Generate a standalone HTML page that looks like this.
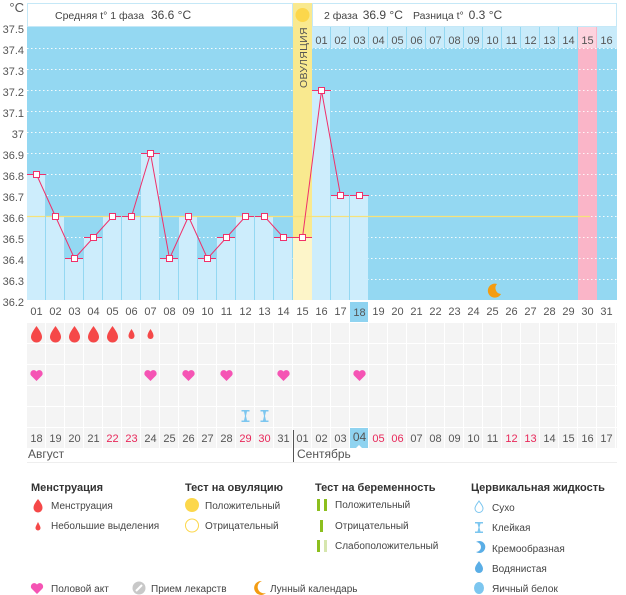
<!DOCTYPE html>
<html><head><meta charset="utf-8"><style>
html,body{margin:0;padding:0;background:#fff}
svg{display:block;font-family:"Liberation Sans",sans-serif}
</style></head><body>
<svg width="626" height="595" viewBox="0 0 626 595" xmlns="http://www.w3.org/2000/svg">
<rect x="27" y="27" width="590" height="273" fill="#94d8f2"/>
<rect x="578" y="27" width="19" height="273" fill="#fab5c8"/>
<g stroke="#fff" stroke-width="1" stroke-dasharray="1.5,2.5" opacity="0.9">
<line x1="27" x2="617" y1="48.5" y2="48.5"/><line x1="27" x2="617" y1="69.5" y2="69.5"/>
<line x1="27" x2="617" y1="90.5" y2="90.5"/><line x1="27" x2="617" y1="111.5" y2="111.5"/>
<line x1="27" x2="617" y1="132.5" y2="132.5"/><line x1="27" x2="617" y1="153.5" y2="153.5"/>
<line x1="27" x2="617" y1="174.5" y2="174.5"/><line x1="27" x2="617" y1="195.5" y2="195.5"/>
<line x1="27" x2="617" y1="216.5" y2="216.5"/><line x1="27" x2="617" y1="237.5" y2="237.5"/>
<line x1="27" x2="617" y1="258.5" y2="258.5"/><line x1="27" x2="617" y1="279.5" y2="279.5"/>
</g>
<g fill="#cdedfc">
<rect x="27" y="174" width="18" height="126"/>
<rect x="46" y="216" width="18" height="84"/>
<rect x="65" y="258" width="18" height="42"/>
<rect x="84" y="237" width="18" height="63"/>
<rect x="103" y="216" width="18" height="84"/>
<rect x="122" y="216" width="18" height="84"/>
<rect x="141" y="153" width="18" height="147"/>
<rect x="160" y="258" width="18" height="42"/>
<rect x="179" y="216" width="18" height="84"/>
<rect x="198" y="258" width="18" height="42"/>
<rect x="217" y="237" width="18" height="63"/>
<rect x="236" y="216" width="18" height="84"/>
<rect x="255" y="216" width="18" height="84"/>
<rect x="274" y="237" width="18" height="63"/>
<rect x="312" y="90" width="18" height="210"/>
<rect x="331" y="195" width="18" height="105"/>
<rect x="350" y="195" width="18" height="105"/>
</g>
<rect x="293" y="3" width="19" height="234" fill="#f9e98f"/>
<rect x="293" y="237" width="19" height="63" fill="#fdf5c9"/>
<text transform="translate(307,88) rotate(-90)" font-size="10.5" fill="#555" letter-spacing="0.3">ОВУЛЯЦИЯ</text>
<circle cx="302.5" cy="15" r="7" fill="#fcd74b"/>
<g stroke="#f0306a" stroke-width="1">
<line x1="27" x2="46" y1="174.5" y2="174.5"/><line x1="46" x2="65" y1="216.5" y2="216.5"/>
<line x1="65" x2="84" y1="258.5" y2="258.5"/><line x1="84" x2="103" y1="237.5" y2="237.5"/>
<line x1="103" x2="122" y1="216.5" y2="216.5"/><line x1="122" x2="141" y1="216.5" y2="216.5"/>
<line x1="141" x2="160" y1="153.5" y2="153.5"/><line x1="160" x2="179" y1="258.5" y2="258.5"/>
<line x1="179" x2="198" y1="216.5" y2="216.5"/><line x1="198" x2="217" y1="258.5" y2="258.5"/>
<line x1="217" x2="236" y1="237.5" y2="237.5"/><line x1="236" x2="255" y1="216.5" y2="216.5"/>
<line x1="255" x2="274" y1="216.5" y2="216.5"/><line x1="274" x2="293" y1="237.5" y2="237.5"/>
<line x1="293" x2="312" y1="237.5" y2="237.5"/><line x1="312" x2="331" y1="90.5" y2="90.5"/>
<line x1="331" x2="350" y1="195.5" y2="195.5"/><line x1="350" x2="369" y1="195.5" y2="195.5"/>
</g>
<line x1="27" x2="590" y1="216.5" y2="216.5" stroke="#f7e27a" stroke-width="1.2"/>
<polyline fill="none" stroke="#f0306a" stroke-width="1" points="36.5,174.5 55.5,216.5 74.5,258.5 93.5,237.5 112.5,216.5 131.5,216.5 150.5,153.5 169.5,258.5 188.5,216.5 207.5,258.5 226.5,237.5 245.5,216.5 264.5,216.5 283.5,237.5 302.5,237.5 321.5,90.5 340.5,195.5 359.5,195.5"/>
<g fill="#fff" stroke="#f0306a" stroke-width="1">
<rect x="33.5" y="171.5" width="6" height="6"/><rect x="52.5" y="213.5" width="6" height="6"/>
<rect x="71.5" y="255.5" width="6" height="6"/><rect x="90.5" y="234.5" width="6" height="6"/>
<rect x="109.5" y="213.5" width="6" height="6"/><rect x="128.5" y="213.5" width="6" height="6"/>
<rect x="147.5" y="150.5" width="6" height="6"/><rect x="166.5" y="255.5" width="6" height="6"/>
<rect x="185.5" y="213.5" width="6" height="6"/><rect x="204.5" y="255.5" width="6" height="6"/>
<rect x="223.5" y="234.5" width="6" height="6"/><rect x="242.5" y="213.5" width="6" height="6"/>
<rect x="261.5" y="213.5" width="6" height="6"/><rect x="280.5" y="234.5" width="6" height="6"/>
<rect x="299.5" y="234.5" width="6" height="6"/><rect x="318.5" y="87.5" width="6" height="6"/>
<rect x="337.5" y="192.5" width="6" height="6"/><rect x="356.5" y="192.5" width="6" height="6"/>
</g>
<g stroke="#94d8f2" stroke-width="1">
<line x1="45.5" x2="45.5" y1="216" y2="300"/><line x1="64.5" x2="64.5" y1="258" y2="300"/>
<line x1="83.5" x2="83.5" y1="258" y2="300"/><line x1="102.5" x2="102.5" y1="237" y2="300"/>
<line x1="121.5" x2="121.5" y1="216" y2="300"/><line x1="140.5" x2="140.5" y1="216" y2="300"/>
<line x1="159.5" x2="159.5" y1="258" y2="300"/><line x1="178.5" x2="178.5" y1="258" y2="300"/>
<line x1="197.5" x2="197.5" y1="258" y2="300"/><line x1="216.5" x2="216.5" y1="258" y2="300"/>
<line x1="235.5" x2="235.5" y1="237" y2="300"/><line x1="254.5" x2="254.5" y1="216" y2="300"/>
<line x1="273.5" x2="273.5" y1="237" y2="300"/><line x1="330.5" x2="330.5" y1="195" y2="300"/>
<line x1="349.5" x2="349.5" y1="195" y2="300"/>
</g>
<rect x="27.5" y="3.5" width="265" height="23" fill="#fff" stroke="#c5e8f7"/>
<text x="55" y="19" font-size="10.5" fill="#444">Средняя t° 1 фаза <tspan font-size="12" dx="4">36.6 °C</tspan></text>
<rect x="312.5" y="3.5" width="304" height="23" fill="#fff" stroke="#c5e8f7"/>
<text x="324" y="19" font-size="10.5" fill="#444">2 фаза <tspan font-size="12" dx="2">36.9 °C</tspan></text>
<text x="413" y="19" font-size="10.5" fill="#444">Разница t° <tspan font-size="12" dx="2">0.3 °C</tspan></text>
<g fill="#c9ebfa">
<rect x="312" y="27" width="18" height="21"/><rect x="331" y="27" width="18" height="21"/><rect x="350" y="27" width="18" height="21"/><rect x="369" y="27" width="18" height="21"/><rect x="388" y="27" width="18" height="21"/><rect x="407" y="27" width="18" height="21"/><rect x="426" y="27" width="18" height="21"/><rect x="445" y="27" width="18" height="21"/><rect x="464" y="27" width="18" height="21"/><rect x="483" y="27" width="18" height="21"/><rect x="502" y="27" width="18" height="21"/><rect x="521" y="27" width="18" height="21"/><rect x="540" y="27" width="18" height="21"/><rect x="559" y="27" width="18" height="21"/><rect x="578" y="27" width="18" height="21" fill="#fdd3de"/><rect x="597" y="27" width="20" height="21"/>
</g>
<g font-size="11" fill="#555" text-anchor="middle">
<text x="321.5" y="44">01</text><text x="340.5" y="44">02</text><text x="359.5" y="44">03</text><text x="378.5" y="44">04</text><text x="397.5" y="44">05</text><text x="416.5" y="44">06</text><text x="435.5" y="44">07</text><text x="454.5" y="44">08</text><text x="473.5" y="44">09</text><text x="492.5" y="44">10</text><text x="511.5" y="44">11</text><text x="530.5" y="44">12</text><text x="549.5" y="44">13</text><text x="568.5" y="44">14</text><text x="587.5" y="44">15</text><text x="606.5" y="44">16</text>
</g>
<path d="M497,284 a7,7 0 1 0 4,10 a6,6 0 0 1 -4,-10z" fill="#f39c12"/>
<g font-size="11" fill="#555" text-anchor="end">
<text x="24" y="12" font-size="13">°C</text>
<text x="24" y="33">37.5</text><text x="24" y="54">37.4</text><text x="24" y="75">37.3</text><text x="24" y="96">37.2</text><text x="24" y="117">37.1</text><text x="24" y="138">37</text><text x="24" y="159">36.9</text><text x="24" y="180">36.8</text><text x="24" y="201">36.7</text><text x="24" y="222">36.6</text><text x="24" y="243">36.5</text><text x="24" y="264">36.4</text><text x="24" y="285">36.3</text><text x="24" y="306">36.2</text>
</g>
<rect x="350" y="302" width="18" height="20" fill="#8fd3f0"/>
<g font-size="11" fill="#555" text-anchor="middle">
<text x="36.5" y="315">01</text><text x="55.5" y="315">02</text><text x="74.5" y="315">03</text><text x="93.5" y="315">04</text><text x="112.5" y="315">05</text><text x="131.5" y="315">06</text><text x="150.5" y="315">07</text><text x="169.5" y="315">08</text><text x="188.5" y="315">09</text><text x="207.5" y="315">10</text><text x="226.5" y="315">11</text><text x="245.5" y="315">12</text><text x="264.5" y="315">13</text><text x="283.5" y="315">14</text><text x="302.5" y="315">15</text><text x="321.5" y="315">16</text><text x="340.5" y="315">17</text><text x="359.5" y="316">18</text><text x="378.5" y="315">19</text><text x="397.5" y="315">20</text><text x="416.5" y="315">21</text><text x="435.5" y="315">22</text><text x="454.5" y="315">23</text><text x="473.5" y="315">24</text><text x="492.5" y="315">25</text><text x="511.5" y="315">26</text><text x="530.5" y="315">27</text><text x="549.5" y="315">28</text><text x="568.5" y="315">29</text><text x="587.5" y="315">30</text><text x="606.5" y="315">31</text>
</g>
<defs>
<pattern id="cells" x="27" y="323" width="19" height="21" patternUnits="userSpaceOnUse">
<rect x="0" y="0" width="18" height="20" fill="#f4f4f4"/>
</pattern>
</defs>
<rect x="27" y="323" width="590" height="125" fill="url(#cells)"/>
<rect x="350" y="428" width="18" height="20" fill="#8fd3f0"/>
<path d="M356,448 l3,-3 l3,3z" fill="#fff"/>
<g fill="#f54848">
<path d="M36.5,326 C33,331 31,334 31,337 a5.5,5.5 0 0 0 11,0 C42,334 40,331 36.5,326z"/>
<path d="M55.5,326 C52,331 50,334 50,337 a5.5,5.5 0 0 0 11,0 C61,334 59,331 55.5,326z"/>
<path d="M74.5,326 C71,331 69,334 69,337 a5.5,5.5 0 0 0 11,0 C80,334 78,331 74.5,326z"/>
<path d="M93.5,326 C90,331 88,334 88,337 a5.5,5.5 0 0 0 11,0 C99,334 97,331 93.5,326z"/>
<path d="M112.5,326 C109,331 107,334 107,337 a5.5,5.5 0 0 0 11,0 C118,334 116,331 112.5,326z"/>
<path d="M131.5,329 C129.5,332 128.5,334 128.5,336 a3,3 0 0 0 6,0 C134.5,334 133.5,332 131.5,329z"/>
<path d="M150.5,329 C148.5,332 147.5,334 147.5,336 a3,3 0 0 0 6,0 C153.5,334 152.5,332 150.5,329z"/>
</g>
<g fill="#f554b4">
<path d="M36.5,381 L31,375.5 a3,3 0 0 1 5.5,-4 a3,3 0 0 1 5.5,4z"/>
<path d="M150.5,381 L145,375.5 a3,3 0 0 1 5.5,-4 a3,3 0 0 1 5.5,4z"/>
<path d="M188.5,381 L183,375.5 a3,3 0 0 1 5.5,-4 a3,3 0 0 1 5.5,4z"/>
<path d="M226.5,381 L221,375.5 a3,3 0 0 1 5.5,-4 a3,3 0 0 1 5.5,4z"/>
<path d="M283.5,381 L278,375.5 a3,3 0 0 1 5.5,-4 a3,3 0 0 1 5.5,4z"/>
<path d="M359.5,381 L354,375.5 a3,3 0 0 1 5.5,-4 a3,3 0 0 1 5.5,4z"/>
</g>
<g fill="#7cc6ef">
<path d="M241.5,410 h8 v1.5 h-2.5 l-1,4.5 l1,4.5 h2.5 v1.5 h-8 v-1.5 h2.5 l1,-4.5 l-1,-4.5 h-2.5z"/>
<path d="M260.5,410 h8 v1.5 h-2.5 l-1,4.5 l1,4.5 h2.5 v1.5 h-8 v-1.5 h2.5 l1,-4.5 l-1,-4.5 h-2.5z"/>
</g>
<g font-size="11" fill="#555" text-anchor="middle">
<text x="36.5" y="442">18</text><text x="55.5" y="442">19</text><text x="74.5" y="442">20</text><text x="93.5" y="442">21</text><text x="112.5" y="442" fill="#e8285a">22</text><text x="131.5" y="442" fill="#e8285a">23</text><text x="150.5" y="442">24</text><text x="169.5" y="442">25</text><text x="188.5" y="442">26</text><text x="207.5" y="442">27</text><text x="226.5" y="442">28</text><text x="245.5" y="442" fill="#e8285a">29</text><text x="264.5" y="442" fill="#e8285a">30</text><text x="283.5" y="442">31</text><text x="302.5" y="442">01</text><text x="321.5" y="442">02</text><text x="340.5" y="442">03</text><text x="359.5" y="441" font-size="12">04</text><text x="378.5" y="442" fill="#e8285a">05</text><text x="397.5" y="442" fill="#e8285a">06</text><text x="416.5" y="442">07</text><text x="435.5" y="442">08</text><text x="454.5" y="442">09</text><text x="473.5" y="442">10</text><text x="492.5" y="442">11</text><text x="511.5" y="442" fill="#e8285a">12</text><text x="530.5" y="442" fill="#e8285a">13</text><text x="549.5" y="442">14</text><text x="568.5" y="442">15</text><text x="587.5" y="442">16</text><text x="606.5" y="442">17</text>
</g>
<line x1="293.5" x2="293.5" y1="430" y2="462" stroke="#555"/>
<line x1="27" x2="617" y1="462.5" y2="462.5" stroke="#eee"/>
<text x="28" y="458" font-size="12" fill="#555">Август</text>
<text x="297" y="458" font-size="12" fill="#555">Сентябрь</text>
<g font-size="11" font-weight="bold" fill="#333">
<text x="31" y="491">Менструация</text><text x="185" y="491">Тест на овуляцию</text><text x="315" y="491">Тест на беременность</text><text x="471" y="491">Цервикальная жидкость</text>
</g>
<g font-size="10" fill="#444">
<text x="51" y="509">Менструация</text><text x="51" y="529">Небольшие выделения</text>
<text x="205" y="509">Положительный</text><text x="205" y="529">Отрицательный</text>
<text x="335" y="508">Положительный</text><text x="335" y="529">Отрицательный</text><text x="335" y="549">Слабоположительный</text>
<text x="492" y="511">Сухо</text><text x="492" y="531">Клейкая</text><text x="492" y="552">Кремообразная</text><text x="492" y="572">Водянистая</text><text x="492" y="592">Яичный белок</text>
<text x="51" y="592">Половой акт</text><text x="151" y="592">Прием лекарств</text><text x="270" y="592">Лунный календарь</text>
</g>
<path d="M38,499 C35,503 33.5,505 33.5,508 a4.5,4.5 0 0 0 9,0 C42.5,505 41,503 38,499z" fill="#f54848"/>
<path d="M38,522 C36.5,525 35.5,526.5 35.5,528 a2.5,2.5 0 0 0 5,0 C40.5,526.5 39.5,525 38,522z" fill="#f54848"/>
<circle cx="192" cy="505" r="7" fill="#fcd74b"/>
<circle cx="192" cy="525.5" r="6.5" fill="#fff" stroke="#fcd74b"/>
<g fill="#8cbf1e">
<rect x="317" y="499" width="3" height="12"/><rect x="324" y="499" width="3" height="12"/>
<rect x="320" y="520" width="3" height="12"/>
<rect x="317" y="540" width="3" height="12"/><rect x="324" y="540" width="3" height="12" fill="#d6e6ae"/>
</g>
<path d="M479,501 C477,504 475,506 475,508.5 a4,4 0 0 0 8,0 C483,506 481,504 479,501z" fill="#fff" stroke="#7cc6ef"/>
<path d="M475,522 h8 v1.5 h-2.5 l-1,4 l1,4 h2.5 v1.5 h-8 v-1.5 h2.5 l1,-4 l-1,-4 h-2.5z" fill="#7cc6ef"/>
<path d="M476,542 a6,6 0 1 1 0,10 a5,5 0 0 0 0,-10z" fill="#5aaee6"/>
<path d="M479,561 C477,564 475,566 475,569 a4,4 0 0 0 8,0 C483,566 481,564 479,561z" fill="#5aaee6"/>
<ellipse cx="479" cy="588" rx="5" ry="6" fill="#7cc6ef"/>
<path d="M37,594 L31.5,588.5 a3,3 0 0 1 5.5,-4 a3,3 0 0 1 5.5,4z" fill="#f554b4"/>
<circle cx="139" cy="588" r="6.5" fill="#c8c8c8"/>
<line x1="136" y1="591" x2="142" y2="585" stroke="#fff" stroke-width="2"/>
<path d="M262,581 a7,7 0 1 0 4,12 a6,6 0 0 1 -4,-12z" fill="#f39c12"/>
</svg>
</body></html>
